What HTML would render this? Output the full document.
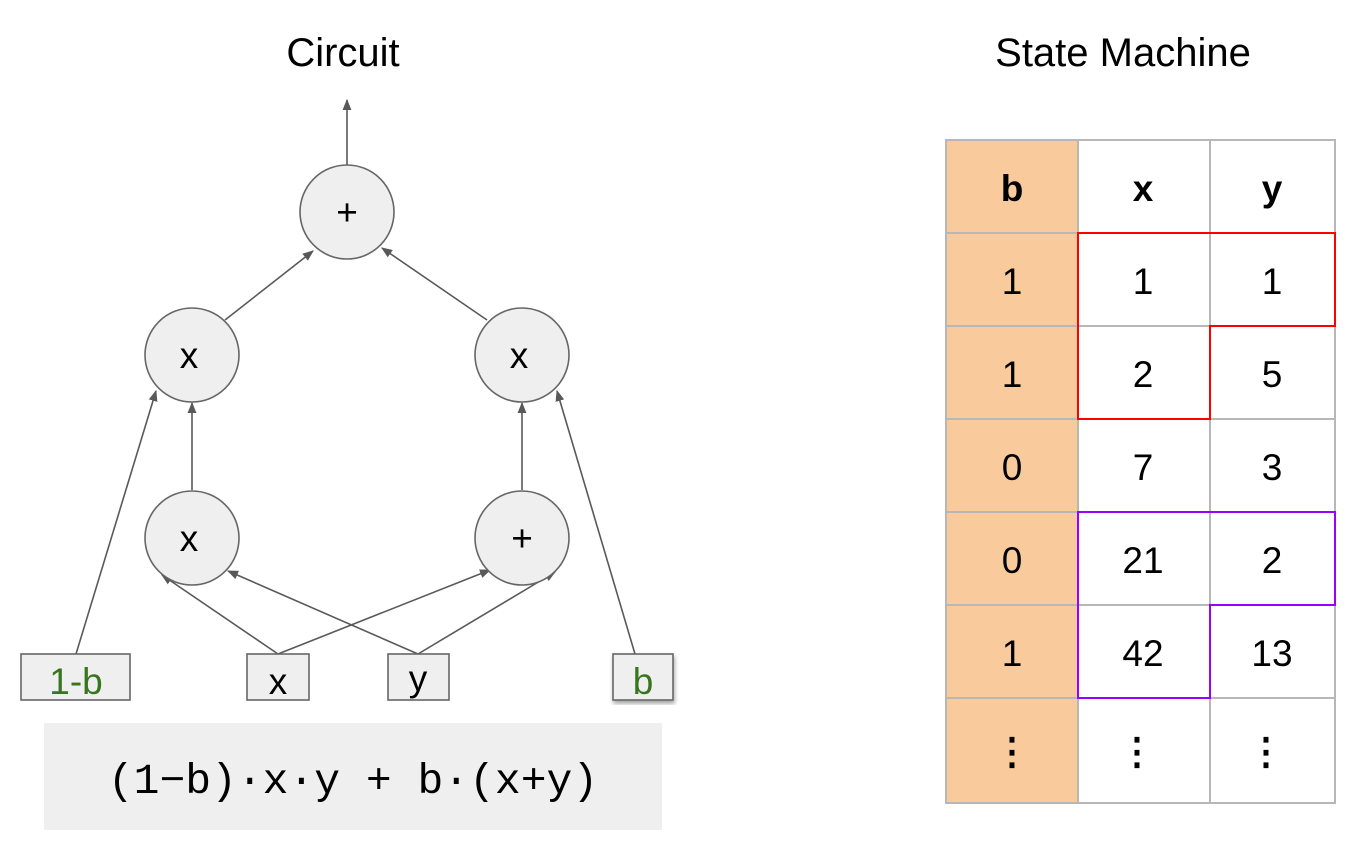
<!DOCTYPE html>
<html><head><meta charset="utf-8"><style>
html,body{margin:0;padding:0;background:#fff;width:1351px;height:849px;overflow:hidden}
text{font-family:"Liberation Sans",sans-serif}
</style></head><body>
<svg width="1351" height="849" viewBox="0 0 1351 849">
<defs><marker id="ah" viewBox="0 0 10 10" refX="9" refY="5" markerWidth="7" markerHeight="7" orient="auto"><path d="M0,1 L10,5 L0,9z" fill="#595959"/></marker>
<filter id="sh"><feDropShadow dx="1" dy="3" stdDeviation="2" flood-opacity="0.35"/></filter></defs>
<text x="343" y="66" font-size="40" text-anchor="middle">Circuit</text>
<text x="1123" y="66" font-size="40" text-anchor="middle">State Machine</text>
<g stroke="#595959" stroke-width="1.6" fill="none" marker-end="url(#ah)">
<line x1="347" y1="165" x2="347" y2="100"/>
<line x1="225" y1="320" x2="313" y2="251"/>
<line x1="487" y1="320" x2="382" y2="248"/>
<line x1="192" y1="490" x2="192" y2="403"/>
<line x1="522" y1="490" x2="522" y2="403"/>
<line x1="76" y1="654" x2="156" y2="391"/>
<line x1="635" y1="654" x2="557" y2="391"/>
<line x1="278" y1="654" x2="162" y2="575"/>
<line x1="278" y1="654" x2="490" y2="570"/>
<line x1="418" y1="654" x2="228" y2="571"/>
<line x1="418" y1="654" x2="555" y2="572"/>
</g>
<g fill="#efefef" stroke="#666" stroke-width="1.6">
<circle cx="347" cy="212" r="47"/>
<circle cx="192" cy="355" r="47"/>
<circle cx="522" cy="355" r="47"/>
<circle cx="192" cy="538" r="47"/>
<circle cx="522" cy="538" r="47"/>
<rect x="21" y="654" width="109" height="46"/>
<rect x="247" y="654" width="62" height="46"/>
<rect x="388" y="654" width="61" height="46"/>
<rect x="613" y="654" width="60" height="46" filter="url(#sh)"/>
</g>
<g font-size="37" text-anchor="middle">
<text x="347" y="225">+</text><text x="189" y="368">x</text><text x="519" y="368">x</text>
<text x="189" y="551">x</text><text x="522" y="551">+</text>
<text x="76" y="694" fill="#38761d">1-b</text><text x="278" y="694">x</text><text x="418" y="691">y</text><text x="643" y="694" fill="#38761d">b</text>
</g>
<rect x="44" y="723" width="618" height="107" fill="#efefef"/>
<text x="353" y="793" font-size="43" text-anchor="middle" style="font-family:'Liberation Mono',monospace">(1−b)·x·y + b·(x+y)</text>
<g>
<rect x="946" y="140" width="132" height="663" fill="#f9cb9c"/>
<g stroke="#b7b7b7" stroke-width="2" fill="none">
<rect x="946" y="140" width="389" height="663"/>
<line x1="1078" y1="140" x2="1078" y2="803"/><line x1="1210" y1="140" x2="1210" y2="803"/>
<line x1="946" y1="233" x2="1335" y2="233"/><line x1="946" y1="326" x2="1335" y2="326"/>
<line x1="946" y1="419" x2="1335" y2="419"/><line x1="946" y1="512" x2="1335" y2="512"/>
<line x1="946" y1="605" x2="1335" y2="605"/><line x1="946" y1="698" x2="1335" y2="698"/>
</g>
<path d="M1078,419 L1078,233 L1335,233 L1335,326 L1210,326 L1210,419 Z" fill="none" stroke="#ff0000" stroke-width="2"/>
<path d="M1078,698 L1078,512 L1335,512 L1335,605 L1210,605 L1210,698 Z" fill="none" stroke="#9900ff" stroke-width="2"/>
<g font-size="37" text-anchor="middle">
<text x="1012" y="201" font-weight="bold">b</text><text x="1143" y="201" font-weight="bold">x</text><text x="1272" y="201" font-weight="bold">y</text>
<text x="1012" y="294">1</text><text x="1143" y="294">1</text><text x="1272" y="294">1</text>
<text x="1012" y="387">1</text><text x="1143" y="387">2</text><text x="1272" y="387">5</text>
<text x="1012" y="480">0</text><text x="1143" y="480">7</text><text x="1272" y="480">3</text>
<text x="1012" y="573">0</text><text x="1143" y="573">21</text><text x="1272" y="573">2</text>
<text x="1012" y="666">1</text><text x="1143" y="666">42</text><text x="1272" y="666">13</text>
<text x="1012" y="764" font-weight="bold">⋮</text><text x="1137" y="764" font-weight="bold">⋮</text><text x="1266" y="764" font-weight="bold">⋮</text>
</g>
</g>
</svg>
</body></html>
